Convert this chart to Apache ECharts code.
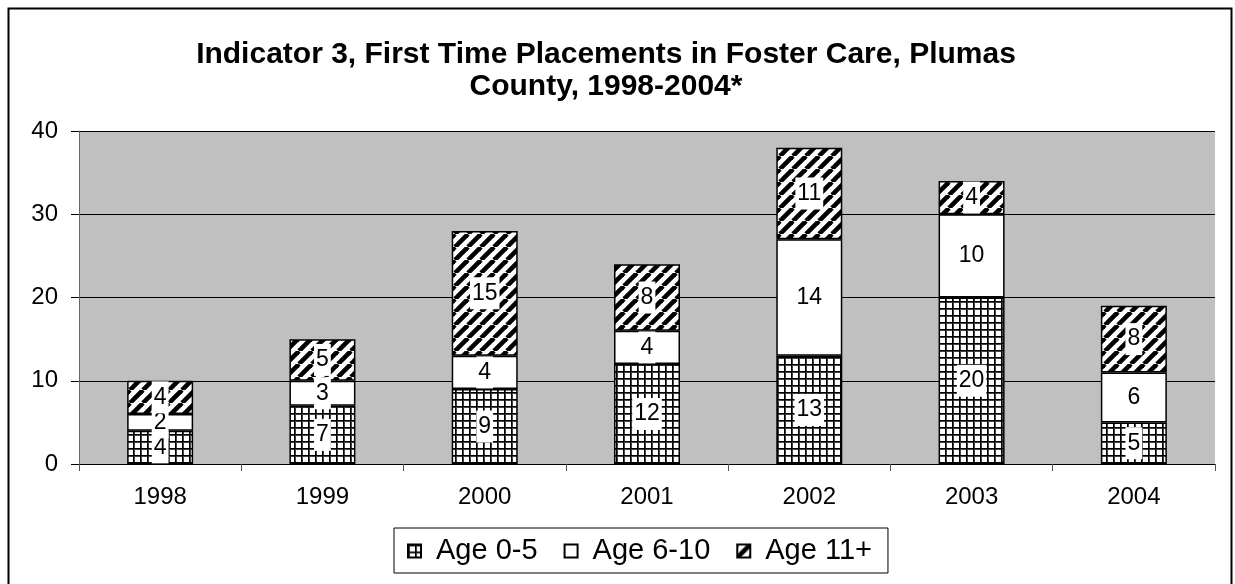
<!DOCTYPE html>
<html>
<head>
<meta charset="utf-8">
<script src="https://cdn.jsdelivr.net/npm/echarts@6/dist/echarts.min.js"></script>
<style>
html,body{margin:0;padding:0;background:#fff;}
#chart{width:1235px;height:584px;}
</style>
</head>
<body>
<div id="chart"></div>
<script>
const categories = ['1998','1999','2000','2001','2002','2003','2004'];
const age0to5 = [4, 7, 9, 12, 13, 20, 5];
const age6to10 = [2, 3, 4, 4, 14, 10, 6];
const age11plus = [4, 5, 15, 8, 11, 4, 8];
const seriesNames = ['Age 0-5', 'Age 6-10', 'Age 11+'];
const titleText = 'Indicator 3, First Time Placements in Foster Care, Plumas\nCounty, 1998-2004*';

function gridPattern() {
  const s = 7;
  const c = document.createElement('canvas');
  c.width = s; c.height = s;
  const ctx = c.getContext('2d');
  ctx.fillStyle = '#fff'; ctx.fillRect(0, 0, s, s);
  ctx.fillStyle = '#444';
  ctx.fillRect(0, 0, s, 2);
  ctx.fillRect(0, 0, 2, s);
  ctx.fillStyle = '#000';
  ctx.fillRect(0, 0, s, 1);
  ctx.fillRect(0, 0, 1, s);
  return c;
}
function stripePattern() {
  const s = 13;
  const c = document.createElement('canvas');
  c.width = s; c.height = s;
  const ctx = c.getContext('2d');
  ctx.fillStyle = '#fff'; ctx.fillRect(0, 0, s, s);
  ctx.strokeStyle = '#000';
  ctx.lineWidth = 4.6;
  for (let k = -1; k <= 1; k++) {
    ctx.beginPath();
    ctx.moveTo(k * s, s);
    ctx.lineTo(k * s + s, 0);
    ctx.stroke();
  }
  return c;
}

const chart = echarts.init(document.getElementById('chart'));
const font = "'Liberation Sans', Arial, sans-serif";
const labelCfg = {
  show: true,
  position: 'inside',
  color: '#000',
  fontSize: 23,
  fontFamily: font,
  backgroundColor: '#fff',
  padding: [5, 2, 4, 2]
};
function mkSeries(name, data, color) {
  return {
    name: name,
    type: 'bar',
    stack: 'total',
    data: data,
    barWidth: 66,
    itemStyle: { color: color, borderColor: '#000', borderWidth: 1.5 },
    label: labelCfg,
    emphasis: { disabled: true }
  };
}

chart.setOption({
  animation: false,
  backgroundColor: '#fff',
  title: {
    text: titleText,
    left: 601,
    textAlign: 'center',
    top: 34,
    textStyle: { fontSize: 30, fontWeight: 'bold', fontFamily: font, color: '#000', lineHeight: 32 }
  },
  graphic: [{
    type: 'rect',
    shape: { x: 8.5, y: 8.5, width: 1223, height: 600 },
    style: { fill: null, stroke: '#000', lineWidth: 2 },
    silent: true, z: 100
  }],
  legend: {
    left: 394,
    top: 528,
    data: seriesNames,
    icon: 'rect',
    itemWidth: 13,
    itemHeight: 13,
    itemGap: 26,
    padding: [8, 16, 7, 13],
    borderColor: '#000',
    borderWidth: 1,
    textStyle: { fontSize: 29, fontFamily: font, color: '#000', lineHeight: 30, padding: [0, 0, 0, 10] }
  },
  grid: {
    left: 79, right: 20, top: 131, bottom: 120,
    show: true, backgroundColor: '#c0c0c0', borderWidth: 0
  },
  xAxis: {
    type: 'category',
    data: categories,
    axisLine: { lineStyle: { color: '#000', width: 1 } },
    axisTick: { show: true, length: 7, lineStyle: { color: '#555' } },
    axisLabel: { fontSize: 24, fontFamily: font, color: '#000', margin: 21 }
  },
  yAxis: {
    type: 'value',
    min: 0, max: 40, interval: 10,
    axisLine: { show: true, lineStyle: { color: '#666', width: 1 } },
    axisTick: { show: true, length: 8, lineStyle: { color: '#000' } },
    axisLabel: { fontSize: 24, fontFamily: font, color: '#000', margin: 21 },
    splitLine: { lineStyle: { color: '#000', width: 1 } }
  },
  series: [
    mkSeries(seriesNames[0], age0to5, { image: gridPattern(), repeat: 'repeat' }),
    mkSeries(seriesNames[1], age6to10, '#fff'),
    mkSeries(seriesNames[2], age11plus, { image: stripePattern(), repeat: 'repeat' })
  ]
});
</script>
</body>
</html>
